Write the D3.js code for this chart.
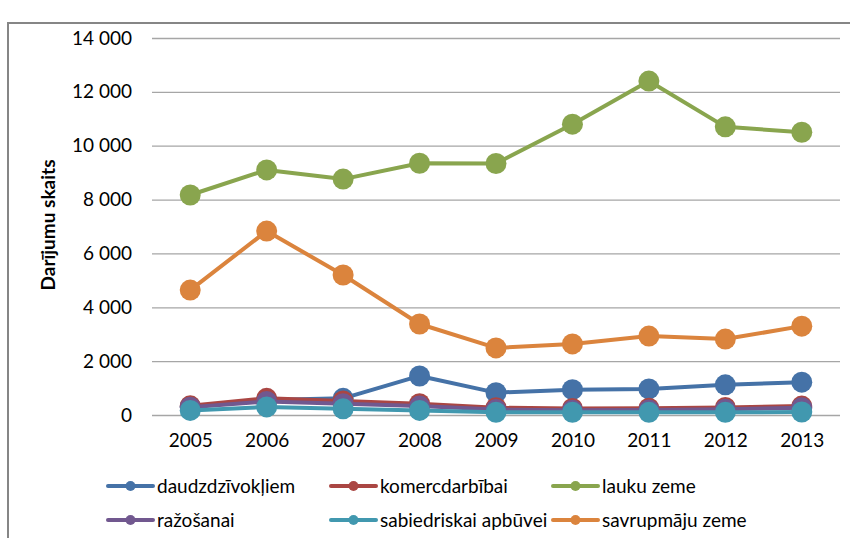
<!DOCTYPE html>
<html>
<head>
<meta charset="utf-8">
<script src="https://cdn.jsdelivr.net/npm/d3@7"></script>
<style>
  body { margin: 0; background: #fff; }
  svg text { font-family: Lato, "Liberation Sans", Arial, sans-serif; fill: #000; }
</style>
</head>
<body>
<div id="chart"></div>
<script>
var years = ["2005", "2006", "2007", "2008", "2009", "2010", "2011", "2012", "2013"];
var seriesNames = ["daudzdzīvokļiem", "komercdarbībai", "lauku zeme", "ražošanai", "sabiedriskai apbūvei", "savrupmāju zeme"];
var seriesColors = ["#4572A7", "#AA4643", "#89A54E", "#71588F", "#4198AF", "#DB843D"];
var daudzdzivokliem = [320, 560, 620, 1450, 830, 940, 970, 1120, 1220];
var komercdarbibai = [340, 620, 520, 420, 270, 240, 250, 280, 330];
var laukuZeme = [8170, 9100, 8760, 9350, 9340, 10800, 12400, 10700, 10500];
var razosanai = [290, 500, 420, 330, 200, 180, 190, 210, 270];
var sabiedriskai = [170, 300, 230, 170, 100, 100, 100, 100, 110];
var savrupmaju = [4640, 6830, 5200, 3380, 2490, 2640, 2930, 2820, 3300];
var yTicks = [0, 2000, 4000, 6000, 8000, 10000, 12000, 14000];

var seriesValues = [daudzdzivokliem, komercdarbibai, laukuZeme, razosanai, sabiedriskai, savrupmaju];

var svgWidth = 850;
var svgHeight = 538;
var plot = { left: 152, right: 840, top: 38, bottom: 415 };
var fontSize = 19;

var svg = d3.select("#chart")
  .append("svg")
  .attr("width", svgWidth)
  .attr("height", svgHeight);

// chart frame, runs off the right and bottom edge
svg.append("rect")
  .attr("x", 8)
  .attr("y", 23)
  .attr("width", 900)
  .attr("height", 600)
  .attr("fill", "none")
  .attr("stroke", "#868686")
  .attr("stroke-width", 2);

var x = d3.scalePoint()
  .domain(years)
  .range([plot.left, plot.right])
  .padding(0.5);

var y = d3.scaleLinear()
  .domain([0, 14000])
  .range([plot.bottom, plot.top]);

// gridlines + y labels
var yaxis = d3.axisLeft(y)
  .tickValues(yTicks)
  .tickSize(-(plot.right - plot.left))
  .tickPadding(20)
  .tickFormat(d => d3.format(",")(d).replace(/,/g, " "));

var yg = svg.append("g")
  .attr("transform", `translate(${plot.left}, 0)`)
  .call(yaxis);
yg.select(".domain").remove();
yg.attr("font-size", null).attr("font-family", null);
yg.selectAll(".tick line").attr("stroke", "#a6a6a6").attr("stroke-width", 1.3);
yg.selectAll(".tick text").style("font-size", fontSize + "px").attr("fill", "#000");

// x labels
var xaxis = d3.axisBottom(x).tickSize(0).tickPadding(19);
var xg = svg.append("g")
  .attr("transform", `translate(0, ${plot.bottom})`)
  .call(xaxis);
xg.select(".domain").remove();
xg.attr("font-size", null).attr("font-family", null);
xg.selectAll(".tick text").style("font-size", fontSize + "px").attr("fill", "#000");

// y title
svg.append("text")
  .attr("transform", "translate(55, 225) rotate(-90)")
  .attr("text-anchor", "middle")
  .style("font-size", fontSize + "px")
  .attr("font-weight", "bold")
  .text("Darījumu skaits");

var line = d3.line()
  .x((d, i) => x(years[i]))
  .y(d => y(d));

seriesValues.forEach(function(vals, k) {
  var g = svg.append("g");
  g.append("path")
    .attr("d", line(vals))
    .attr("fill", "none")
    .attr("stroke", seriesColors[k])
    .attr("stroke-width", 4)
    .attr("stroke-linejoin", "round");
  g.selectAll("circle")
    .data(vals)
    .enter()
    .append("circle")
    .attr("cx", (d, i) => x(years[i]))
    .attr("cy", d => y(d))
    .attr("r", 10.5)
    .attr("fill", seriesColors[k]);
});

// legend
var legendCols = [108, 331, 553];
var legendRows = [486, 520];
seriesNames.forEach(function(name, k) {
  var lx = legendCols[k % 3];
  var ly = legendRows[Math.floor(k / 3)];
  var g = svg.append("g").attr("transform", `translate(${lx}, ${ly})`);
  g.append("line")
    .attr("x1", 0).attr("x2", 45)
    .attr("stroke", seriesColors[k])
    .attr("stroke-width", 4)
    .attr("stroke-linecap", "round");
  g.append("circle")
    .attr("cx", 22.5)
    .attr("r", 5)
    .attr("fill", seriesColors[k]);
  g.append("text")
    .attr("x", 49)
    .attr("dy", "0.35em")
    .style("font-size", fontSize + "px")
    .text(name);
});
</script>
</body>
</html>
